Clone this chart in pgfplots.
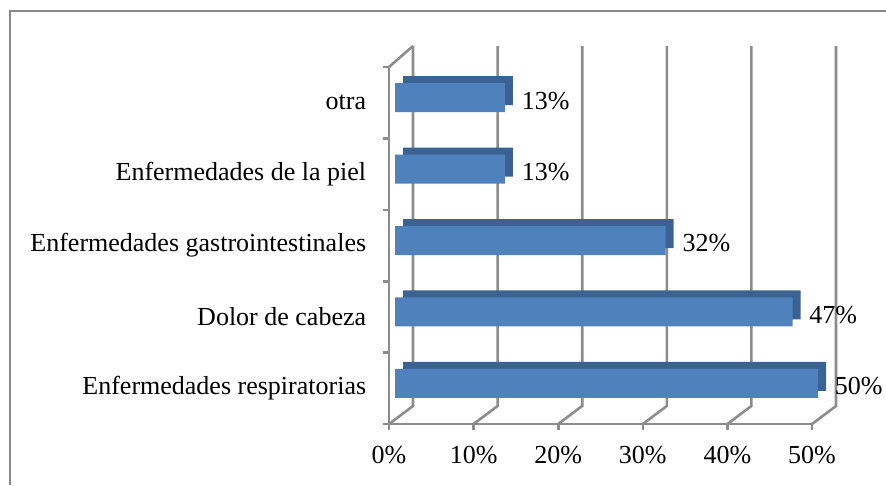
\documentclass[border=0pt]{standalone}
\usepackage{fontspec}
\setmainfont{Liberation Serif}
\usepackage{pgfplots}
\pgfplotsset{compat=1.18}
\definecolor{barfront}{HTML}{4F81BD}
\definecolor{bardark}{HTML}{3A6293}
\definecolor{gridc}{HTML}{8C8C8C}
\definecolor{framec}{HTML}{888888}
\begin{document}
\fontsize{26}{31}\selectfont
\begin{tikzpicture}
\useasboundingbox (0pt,0pt) rectangle (886pt,-485pt);
\draw[framec, line width=2pt] (9.5pt,-485pt) -- (9.5pt,-11pt) -- (886pt,-11pt);
\begin{axis}[
  at={(389pt,-424pt)}, anchor=south west,
  scale only axis, width=423pt, height=357pt,
  xmin=0, xmax=50, ymin=0.5, ymax=5.5,
  axis x line*=bottom, axis y line*=left,
  axis line style={gridc, line width=2.6pt, -},
  /pgf/number format/assume math mode=true,
  xtick={0,10,...,50},
  xticklabel={\pgfmathprintnumber{\tick}\%},
  ytick={0.5,1.5,...,5.5}, yticklabels={},
  extra y ticks={1,2,3,4,5},
  extra y tick labels={Enfermedades respiratorias,Dolor de cabeza,Enfermedades gastrointestinales,Enfermedades de la piel,otra},
  extra y tick style={major tick length=0pt, yticklabel style={xshift=-14pt}},
  tick align=outside, major tick length=6pt,
  tick style={gridc, line width=2.6pt},
  every tick label/.append style={font=\fontsize{26}{31}\selectfont, text=black},
  xticklabel style={yshift=-7pt},
  clip=false,
  bar width=29pt,
]
\pgfplotsinvokeforeach{0,10,20,30,40,50}{
  \draw[gridc, line width=2.6pt] (axis cs:#1,0.5) -- ([shift={(24pt,18pt)}]axis cs:#1,0.5) -- ([shift={(24pt,21pt)}]axis cs:#1,5.5);
}
\draw[gridc, line width=2.6pt] (axis cs:0,5.5) -- ([shift={(24pt,21pt)}]axis cs:0,5.5);
\addplot[xbar, fill=bardark, draw=none, xshift=14pt, yshift=12pt]
  coordinates {(50,1) (47,2) (32,3) (13,4) (13,5)};
\addplot[xbar, fill=barfront, draw=none, xshift=6pt, yshift=5pt,
  nodes near coords={\pgfmathprintnumber{\pgfplotspointmeta}\%},
  every node near coord/.append style={font=\fontsize{26}{31}\selectfont, text=black, anchor=west, xshift=8pt, yshift=-3pt}]
  coordinates {(50,1) (47,2) (32,3) (13,4) (13,5)};
\end{axis}
\end{tikzpicture}
\end{document}
